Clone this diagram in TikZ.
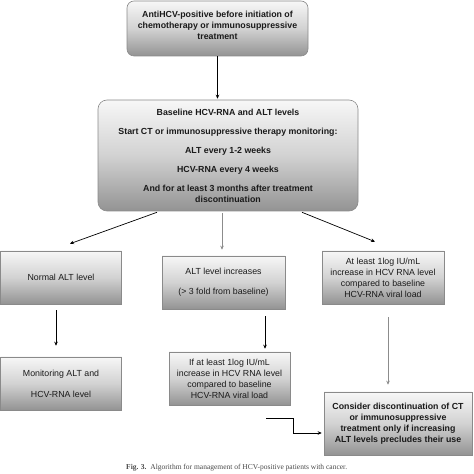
\documentclass[tikz,border=0pt]{standalone}
\usepackage{fontspec}
\setmainfont{Liberation Sans}
\newfontfamily\capfont{Liberation Serif}
\usetikzlibrary{arrows.meta,calc}
\definecolor{gtop}{HTML}{F7F7F7}
\definecolor{gmid}{HTML}{D2D2D2}
\definecolor{gbot}{HTML}{939393}
\definecolor{bline}{HTML}{8A8A8A}
\definecolor{garrow}{HTML}{8C8C8C}
\definecolor{txt}{HTML}{1A1A1A}
\begin{document}
\begin{tikzpicture}[x=1pt,y=1pt,
  gbox/.style={draw=bline, line width=0.6pt, top color=gtop, bottom color=gbot, middle color=gmid,
    align=center, text=txt, font=\fontsize{8.8}{11}\selectfont, inner sep=2pt},
  rbox/.style={gbox, rounded corners=7pt},
  bbox/.style={font=\fontsize{8.8}{11}\selectfont\bfseries},
  arr/.style={-{Stealth[length=4pt,width=3.6pt]}, line width=0.7pt, black},
  garr/.style={arr, garrow}]
\useasboundingbox (0,0) rectangle (474,474);

\node[rbox, bbox, minimum width=181pt, minimum height=55pt] (top) at (217.5,445.5)
  {AntiHCV-positive before initiation of\\chemotherapy or immunosuppressive\\treatment\\[-4pt]};

\node[rbox, bbox, rounded corners=9pt, minimum width=260pt, minimum height=111pt] (base) at (228,318.5)
  {Baseline HCV-RNA and ALT levels\\[8pt]
   Start CT or immunosuppressive therapy monitoring:\\[8pt]
   ALT every 1-2 weeks\\[8pt]
   HCV-RNA every 4 weeks\\[8pt]
   And for at least 3 months after treatment\\discontinuation};

\node[gbox, minimum width=121pt, minimum height=53pt] (normal) at (61,196.5) {Normal ALT level};
\node[gbox, minimum width=123pt, minimum height=53pt] (incr) at (223.5,191.5)
  {ALT level increases\\[9pt](> 3 fold from baseline)};
\node[gbox, minimum width=122pt, minimum height=53pt] (atl) at (383,196.5)
  {At least 1log IU/mL\\increase in HCV RNA level\\compared to baseline\\HCV-RNA viral load};

\node[gbox, minimum width=121pt, minimum height=53pt] (mon) at (61,90.5)
  {Monitoring ALT and\\[10pt]HCV-RNA level};
\node[gbox, minimum width=121pt, minimum height=53pt] (ifb) at (229.5,95.5)
  {If at least 1log IU/mL\\increase in HCV RNA level\\compared to baseline\\HCV-RNA viral load};
\node[gbox, bbox, minimum width=148pt, minimum height=63pt] (cons) at (398,50.5)
  {Consider discontinuation of CT\\or immunosuppressive\\treatment only if increasing\\ALT levels precludes their use};

\draw[arr] (top.south) -- ([yshift=1pt]top.south |- base.north);
\draw[arr] ([xshift=-71pt,yshift=-1pt]base.south) -- ([xshift=9pt,yshift=7pt]normal.north);
\draw[garr] ([xshift=-6pt,yshift=-2pt]base.south) -- ([xshift=-1.5pt,yshift=6pt]incr.north);
\draw[arr] ([xshift=74pt,yshift=-1pt]base.south) -- ([xshift=-8pt,yshift=9pt]atl.north);
\draw[arr] ([xshift=-5pt,yshift=-6pt]normal.south) -- ([xshift=-5pt,yshift=11pt]mon.north);
\draw[arr] ([xshift=41.5pt,yshift=-7pt]incr.south) -- ([xshift=35.5pt,yshift=3pt]ifb.north);
\draw[garr] ([xshift=5pt,yshift=-13pt]atl.south) -- ([xshift=-10pt,yshift=7pt]cons.north);
\draw[arr] ([xshift=36.5pt,yshift=-13pt]ifb.south) -- ++(27pt,0) |- ([xshift=-2pt,yshift=-9.5pt]cons.west);

\node[anchor=west, inner sep=0pt, text=txt!80, font=\capfont\fontsize{7.5}{8}\selectfont] (cap) at (126,6.5)
  {\textbf{Fig. 3.}\ \ Algorithm for management of HCV-positive patients with cancer.};
\end{tikzpicture}
\end{document}
